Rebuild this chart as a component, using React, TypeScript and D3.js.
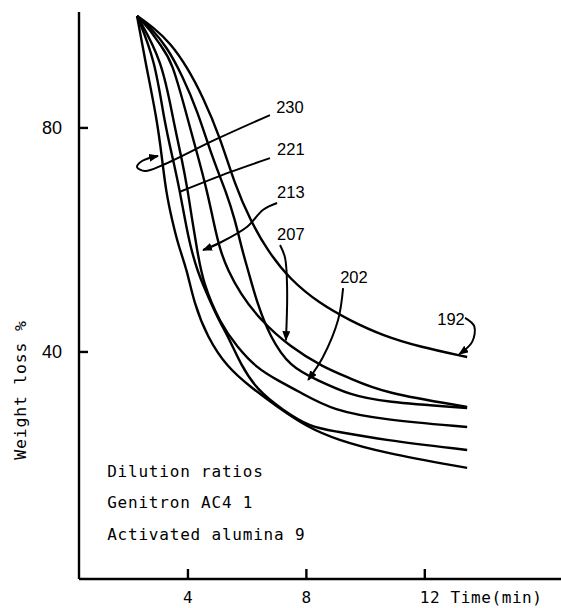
import React from "react";
import * as d3 from "d3";

// Time (min) / weight loss (%) traces for each run
const run230: [number, number][] = [
  [2.28, 100], [2.55, 92.1], [2.96, 81.4], [3.13, 74.3], [3.26, 68.6], [3.46, 63.6],
  [3.67, 59.1], [3.97, 54.6], [4.2, 48.8], [4.65, 42.7], [5.32, 37.3], [6.1, 33.8],
  [7.01, 30.2], [8.02, 26.6], [9.04, 24.3], [10.59, 22.0], [13.43, 19.3],
];
const run221: [number, number][] = [
  [2.28, 100], [2.89, 92.1], [3.19, 81.4], [3.5, 74.3], [3.73, 68.6], [3.9, 63.6],
  [4.07, 59.1], [4.31, 54.6], [4.58, 51.1], [4.98, 46.3], [5.42, 42.1], [5.76, 38.0],
  [6.33, 33.2], [7.21, 29.6], [8.13, 26.6], [8.9, 25.9], [10.59, 24.3], [13.43, 22.5],
];
const run213: [number, number][] = [
  [2.28, 100], [3.13, 92.1], [3.5, 81.4], [3.8, 74.3], [4.0, 68.6], [4.14, 63.6],
  [4.31, 58.2], [4.51, 52.3], [5.08, 45.2], [5.66, 40.9], [6.33, 37.1], [7.01, 35.0],
  [7.89, 32.5], [8.9, 29.6], [10.59, 27.9], [13.43, 26.6],
];
const run207: [number, number][] = [
  [2.28, 100], [2.72, 97.5], [3.06, 94.8], [3.46, 92.1], [4.0, 81.4], [4.37, 74.3],
  [4.65, 68.6], [4.85, 63.6], [5.08, 58.2], [5.35, 54.6], [5.76, 50.5], [6.44, 45.7],
  [7.45, 40.9], [8.56, 37.3], [9.48, 35.3], [10.59, 32.7], [13.43, 30.2],
];
const run202: [number, number][] = [
  [2.28, 100], [2.72, 98.0], [3.29, 94.5], [3.83, 89.1], [4.31, 83.2], [4.85, 74.3],
  [5.29, 68.6], [5.59, 63.6], [5.83, 58.2], [6.03, 54.6], [6.33, 48.8], [6.77, 42.7],
  [7.45, 37.3], [8.36, 35.0], [9.48, 32.3], [10.59, 31.1], [13.43, 30.0],
];
const run192: [number, number][] = [
  [2.28, 100], [2.82, 98.0], [3.4, 95.2], [3.97, 90.9], [4.51, 85.5], [5.08, 78.4],
  [5.59, 69.8], [6.1, 63.6], [6.67, 58.2], [7.45, 52.9], [8.46, 48.6], [9.48, 45.6],
  [10.59, 42.9], [11.84, 40.9], [13.43, 39.1],
];
const runs = [run230, run221, run213, run207, run202, run192];

// Curve labels and their leader lines (in data units)
const labelNames = ["230", "221", "213", "207", "202", "192"];
const labelAnchors: [number, number][] = [
  [6.98, 82.7], [7.01, 75.2], [7.01, 67.5], [7.01, 60.0], [9.14, 52.3], [12.42, 44.8],
];
const leaders: [number, number][][] = [
  [[6.77, 82.3], [4.92, 77.9], [3.16, 73.4], [2.55, 72.3], [2.28, 73.0], [2.45, 74.1], [2.99, 75.0]],
  [[6.77, 74.6], [5.42, 72.1], [3.73, 68.6]],
  [[7.01, 66.6], [6.54, 65.4], [5.99, 62.3], [5.08, 59.5], [4.51, 58.2]],
  [[7.11, 59.1], [7.28, 56.8], [7.35, 51.1], [7.31, 42.1]],
  [[9.24, 51.4], [9.07, 45.7], [8.56, 39.1], [8.06, 35.0]],
  [[13.36, 46.1], [13.67, 44.6], [13.6, 41.8], [13.16, 39.6]],
];
const leaderArrow = [true, false, true, true, true, true];

const xTicks = [4, 8, 12];
const yTicks = [80, 40];
const xTickLabels = ["4", "8", "12 Time(min)"];
const noteLines = ["Dilution ratios", "Genitron AC4 1", "Activated alumina 9"];
const noteAnchors: [number, number][] = [[1.27, 17.7], [1.27, 12.1], [1.27, 6.4]];
const yTitle = "Weight loss %";

const W = 561;
const H = 608;
const mono = "'DejaVu Sans Mono', monospace";
const sans = "'Liberation Sans', Arial, sans-serif";

export default function App() {
  const x = d3.scaleLinear().domain([0.32, 16.6]).range([79, 561]);
  const y = d3.scaleLinear().domain([-0.54, 100.7]).range([579, 12]);
  const line = d3
    .line<[number, number]>()
    .x((d) => x(d[0]))
    .y((d) => y(d[1]))
    .curve(d3.curveBasis);
  const leaderLine = d3
    .line<[number, number]>()
    .x((d) => x(d[0]))
    .y((d) => y(d[1]))
    .curve(d3.curveCatmullRom.alpha(0.5));

  const x0 = x.range()[0];
  const yBase = y(y.domain()[0]);

  return (
    <svg
      width={W}
      height={H}
      style={{ position: "absolute", left: 0, top: 0, background: "#fff" }}
    >
      <defs>
        <marker
          id="ah"
          markerUnits="userSpaceOnUse"
          markerWidth={10}
          markerHeight={8}
          refX={9}
          refY={4}
          orient="auto"
        >
          <path d="M0,0 L10,4 L0,8 Z" fill="#000" />
        </marker>
      </defs>
      <rect width={W} height={H} fill="#fff" />

      {/* axes */}
      <line x1={x0} x2={x0} y1={y.range()[1]} y2={yBase} stroke="#000" strokeWidth={2.4} />
      <line x1={x0} x2={x.range()[1]} y1={yBase} y2={yBase} stroke="#000" strokeWidth={2.4} />
      {yTicks.map((t) => (
        <g key={"yt" + t}>
          <line x1={x0} x2={x0 + 9} y1={y(t)} y2={y(t)} stroke="#000" strokeWidth={2.4} />
          <text
            x={x0 - 17}
            y={y(t)}
            dy="0.36em"
            textAnchor="end"
            fontFamily={sans}
            fontSize={18}
          >
            {t}
          </text>
        </g>
      ))}
      {xTicks.map((t, i) => (
        <g key={"xt" + t}>
          <line x1={x(t)} x2={x(t)} y1={yBase} y2={yBase - 10} stroke="#000" strokeWidth={2.4} />
          <text
            x={x(t) - 5}
            y={603}
            fontFamily={mono}
            fontSize={16}
            letterSpacing={0.6}
          >
            {xTickLabels[i]}
          </text>
        </g>
      ))}
      <text
        transform={`translate(26,${390}) rotate(-90)`}
        textAnchor="middle"
        fontFamily={mono}
        fontSize={16.5}
        letterSpacing={0.8}
      >
        {yTitle}
      </text>

      {/* curves */}
      {runs.map((r, i) => (
        <path key={"r" + i} d={line(r) || ""} fill="none" stroke="#000" strokeWidth={2.4} />
      ))}

      {/* leaders and labels */}
      {leaders.map((l, i) => (
        <path
          key={"l" + i}
          d={leaderLine(l) || ""}
          fill="none"
          stroke="#000"
          strokeWidth={2}
          markerEnd={leaderArrow[i] ? "url(#ah)" : undefined}
        />
      ))}
      {labelNames.map((n, i) => (
        <text
          key={"n" + i}
          x={x(labelAnchors[i][0])}
          y={y(labelAnchors[i][1])}
          fontFamily={sans}
          fontSize={16.5}
        >
          {n}
        </text>
      ))}

      {/* note */}
      {noteLines.map((t, i) => (
        <text
          key={"t" + i}
          x={x(noteAnchors[i][0])}
          y={y(noteAnchors[i][1])}
          fontFamily={mono}
          fontSize={16}
          letterSpacing={0.8}
        >
          {t}
        </text>
      ))}
    </svg>
  );
}
